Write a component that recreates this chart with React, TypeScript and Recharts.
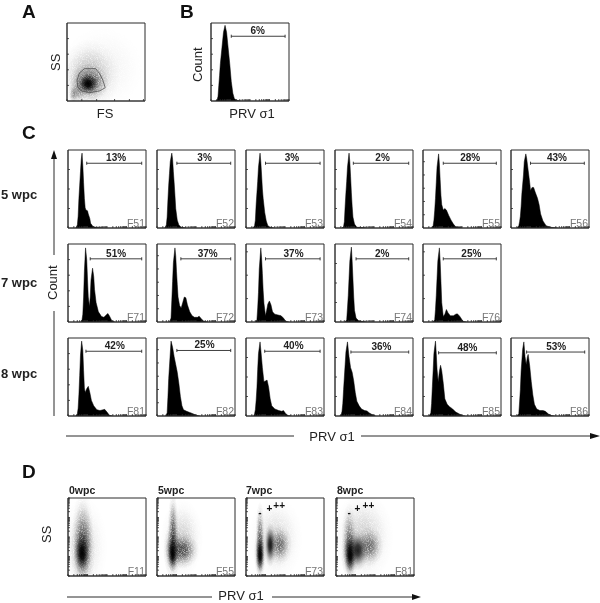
import React from 'react';
import {
  ComposedChart, ScatterChart, Area, Scatter, XAxis, YAxis,
  ReferenceArea, ReferenceLine, ReferenceDot,
} from 'recharts';

const FONT = '"Liberation Sans", Arial, sans-serif';
const INK = '#2a2a2a';

// ---------- histogram outlines, [PRV σ1 % of axis, count % of axis] ----------
const histB = [[6,0],[8,2],[9,6],[10,20],[11,33],[12,48],[14,68],[16,88],[18,97],[20,88],[22,68],[24,48],[26,25],[28,10],[30,3],[33,1],[38,0]];
const histF51 = [[10,0],[12,4],[13,15],[14,38],[15,55],[16,72],[17,88],[18,96],[19,80],[20,58],[21,38],[22,26],[23,23],[25,22],[26,18],[28,12],[29,6],[32,2],[37,0.5],[45,0]];
const histF52 = [[10,0],[12,4],[13,14],[14,36],[15,55],[16,70],[17,85],[19,96],[20,88],[21,72],[22,58],[23,42],[24,25],[26,10],[28,4],[31,1],[37,0]];
const histF53 = [[9,0],[11,3],[12,10],[13,30],[14,45],[15,60],[16,78],[18,96],[19,85],[20,68],[21,50],[22,38],[24,20],[26,9],[28,3],[31,1],[36,0]];
const histF54 = [[9,0],[11,2],[12,8],[13,28],[14,45],[15,60],[16,78],[18,96],[19,85],[20,66],[21,45],[22,28],[23,14],[25,5],[28,1],[35,0.5],[40,0]];
const histF55 = [[11,0],[13,3],[14,10],[15,22],[16,38],[17,58],[18,78],[20,95],[21,82],[22,62],[23,42],[24,30],[26,23],[28,25],[30,23],[33,16],[36,10],[39,5],[42,1.5],[50,0]];
const histF56 = [[8,0],[10,3],[11,8],[12,15],[13,28],[14,45],[16,68],[17,85],[19,95],[20,90],[22,74],[24,58],[25,48],[27,52],[29,52],[31,46],[34,38],[36,30],[38,18],[41,9],[45,3],[50,1],[60,0]];
const histF71 = [[16.5,0],[18,3],[19,10],[20,32],[21,65],[22.5,95],[24,80],[25,55],[26,32],[27.5,20],[28.5,32],[29.5,54],[31.5,69],[33,58],[34,42],[36,25],[39,13],[43,7],[46,6],[49,9],[51,11],[53,8],[56,2],[60,0]];
const histF72 = [[16,0],[18,5],[19,28],[20,52],[21,76],[23,95],[24,85],[25,65],[26,48],[27,32],[29,21],[31,18],[33,25],[35,32],[37,31],[39,22],[42,13],[45,8],[48,6],[52,6],[54,7.5],[57,4],[60,1],[65,0]];
const histF73 = [[12,0],[14,3],[15,18],[16,38],[17,68],[19,95],[20,82],[21,62],[22,40],[23,24],[25,8],[26.5,15],[28,23],[30,27],[32,22],[34,13],[37,10],[41,9],[45,8],[48,5],[51,1],[55,0]];
const histF74 = [[13,0],[15,3],[16,18],[17,34],[18,56],[19,78],[21,96],[22,78],[23,55],[24,32],[25,15],[27,5],[30,2],[34,1],[40,0]];
const histF76 = [[13,0],[15,3],[16,16],[17,34],[18,56],[19,78],[21,95],[22,78],[23,52],[24,25],[26,7],[28,10],[30,16],[32,12],[35,8],[39,8],[42,10],[44,10.5],[47,7.5],[50,3],[52,0.5],[56,0]];
const histF81 = [[10,0],[12,3],[13,10],[14,28],[15,52],[16,78],[17.5,96],[19,84],[20,58],[21,36],[22,30],[24,35],[26,38],[28,30],[30,20],[33,13],[37,8],[41,7],[45,8],[47,8.5],[50,5],[53,1],[57,0]];
const histF82 = [[11,0],[13,4],[14,24],[15,48],[16,64],[18,96],[20,88],[22,76],[24,66],[26,56],[28,42],[30,25],[32,13],[34,8],[38,6],[42,4.5],[46,3],[50,1],[55,0]];
const histF83 = [[10,0],[11,3],[12,8],[13,20],[14,36],[15,60],[16,80],[18,95],[19,85],[21,62],[23,44],[25,45],[27,46],[29,37],[31,22],[33,13],[37,9],[42,7],[46,6],[48,7],[51,3],[54,0.5],[58,0]];
const histF84 = [[6,0],[8,2],[9,6],[10,16],[11,34],[12,50],[13,66],[14,82],[16,95],[18,76],[20,62],[22,56],[24,45],[26,30],[28,19],[31,13],[34,9],[38,7],[41,6.5],[44,4],[48,1.5],[52,0]];
const histF85 = [[8,0],[10,4],[11,16],[12,38],[13,58],[14,80],[16,96],[17,80],[18,60],[19.5,44],[21,57],[22.5,65],[24,58],[26,42],[28,22],[31,15],[34,12],[38,9],[42,5],[46,3],[50,0.5],[54,0]];
const histF86 = [[8,0],[10,3],[11,18],[12,34],[13,58],[15,86],[16.5,95],[18,76],[19.5,66],[21,76],[22,79],[24,64],[26,44],[28,27],[30,15],[33,9],[37,7],[41,7],[44,6],[48,2.5],[52,0.5],[56,0]];

// ---------- gated ranges: [start %, end %, height %, label centre %, label] ----------
const gateB = [26, 95, 83, 60, '6%'];
const gateF51 = [24, 94.5, 83, 61.7, '13%'];
const gateF52 = [25.5, 94.5, 83, 61, '3%'];
const gateF53 = [25, 95, 83, 59, '3%'];
const gateF54 = [23.5, 94.5, 83, 61, '2%'];
const gateF55 = [26, 94, 83, 60.5, '28%'];
const gateF56 = [25, 94, 83, 59, '43%'];
const gateF71 = [28.5, 94.5, 81, 61.7, '51%'];
const gateF72 = [30.6, 94.5, 81, 65, '37%'];
const gateF73 = [25, 95, 81, 61, '37%'];
const gateF74 = [27, 94.5, 81, 60.6, '2%'];
const gateF76 = [26, 94, 81, 62, '25%'];
const gateF81 = [23, 94.5, 83, 60, '42%'];
const gateF82 = [25.5, 94.5, 84, 61, '25%'];
const gateF83 = [24, 95, 83, 61, '40%'];
const gateF84 = [20.4, 94.5, 82, 59.6, '36%'];
const gateF85 = [20, 94, 81, 57, '48%'];
const gateF86 = [20, 94.5, 82, 58, '53%'];

// ---------- density clouds: [x, y, spread x, spread y, darkness] ----------
const cloudA = [[45,42,30,30,0.05],[28,32,20,24,0.24],[14,12,6,8,0.3],[8,8,3,6,0.3],[28,24,13,12,0.65],[27,22,7,7,1]];
const cloudF11 = [[20,38,16,33,0.12],[19,58,7,26,0.28],[19,35,8,26,0.65],[18,29,5.5,14,1]];
const cloudF55 = [[32,48,14,26,0.18],[20.5,55,3.5,27,0.6],[32,33,11,12,0.68],[20,33,6,18,0.6],[20,29,3.5,12,1]];
const cloudF73 = [[38,48,18,28,0.14],[18,52,3,22,0.5],[43,40,8,13,0.52],[31,40,4,14,0.9],[18,30,4,17,0.6],[18,27,3,13,1]];
const cloudF81 = [[35,50,20,30,0.18],[17,50,5,22,0.4],[43,38,9,13,0.5],[28,33,7,13,0.85],[18,30,6,17,0.6],[18,27,4,14,1]];

// ---------- gate polygon of panel A ----------
const gatePolygonA = [[12.8,26.5],[16,36],[22.6,41.5],[36.8,41.5],[41.9,35],[46,26.5],[49,17],[42,13],[29,10.7],[18.4,13],[14,18],[12.8,26.5]];

// ---------- tick positions ----------
const decades = [0, 25, 50, 75];
const minorOffsets = [0, 7.5, 11.9, 15, 17.5, 19.5, 21.1, 22.6, 23.9];
const logTicks = [...decades.flatMap((d) => minorOffsets.map((m) => d + m)), 100];
const xTicksA = [0, 19, 38, 61, 80, 98];
const yTicksA = [20, 40, 60, 80];
const yTicksB = [20, 40, 60, 80];
const yTicksF51 = [25, 50, 75];
const yTicksF55 = [17, 34, 51, 68, 85];
const yTicksF71 = [20, 40, 60, 80];
const yTicksF76 = [30, 60, 90];

// ---------- layout ----------
const colX = [68, 157, 246, 335, 423, 511];
const rowY = [150, 244, 338];
const PANEL = 78;

const toPoints = (pairs) => pairs.map(([x, y]) => ({ x, y }));
const toCloud = (rows) => rows.map(([x, y, sx, sy, w]) => ({ x, y, sx, sy, w }));

const CloudBlob = (props) => {
  const { cx, cy, payload } = props;
  const px = PANEL / 100;
  const { sx, sy, w } = payload;
  return (
    <ellipse
      cx={cx}
      cy={cy}
      rx={sx * 2 * px}
      ry={sy * 2 * px}
      fill="url(#blob)"
      opacity={w}
      filter={w < 0.7 ? 'url(#grain)' : undefined}
    />
  );
};

const NoDot = () => <g />;

function axes(xTicks, yTicks) {
  return [
    <XAxis key="x" dataKey="x" type="number" domain={[0, 100]} allowDataOverflow ticks={xTicks}
      mirror tickSize={2} tickFormatter={() => ''} stroke={INK} strokeWidth={0.8} interval={0} />,
    <YAxis key="y" dataKey="y" type="number" domain={[0, 100]} allowDataOverflow ticks={yTicks}
      mirror tickSize={2} tickFormatter={() => ''} stroke={INK} strokeWidth={0.8} interval={0} />,
  ];
}

const frame = (name) => (
  <ReferenceArea
    x1={0} x2={100} y1={0} y2={100}
    fill="none" stroke={INK} strokeWidth={1}
    label={name ? { value: name, position: 'insideBottomRight', offset: 1, fill: '#777', fontSize: 10.5, fontFamily: FONT } : undefined}
  />
);

const Hist = ({ left, top, hist, gate, name, yTicks }) => {
  const [a, b, h, lx, text] = gate;
  return (
    <div style={{ position: 'absolute', left: left - 1, top: top - 1 }}>
      <ComposedChart width={PANEL + 2} height={PANEL + 2} data={toPoints(hist)}
        margin={{ top: 1, right: 1, bottom: 1, left: 1 }}>
        {axes(logTicks, yTicks)}
        <Area dataKey="y" type="linear" fill="#000" fillOpacity={1} stroke="#000" strokeWidth={0.5} isAnimationActive={false} dot={false} activeDot={false} />
        {frame(name)}
        <ReferenceLine segment={[{ x: a, y: h }, { x: b, y: h }]} stroke={INK} strokeWidth={0.9} />
        <ReferenceLine segment={[{ x: a, y: h - 2 }, { x: a, y: h + 2 }]} stroke={INK} strokeWidth={0.9} />
        <ReferenceLine segment={[{ x: b, y: h - 2 }, { x: b, y: h + 2 }]} stroke={INK} strokeWidth={0.9} />
        <ReferenceDot x={lx} y={h} r={0} fill="none" stroke="none"
          label={{ value: text, position: 'top', offset: 2, fontSize: 10, fontWeight: 700, fill: '#222', fontFamily: FONT }} />
      </ComposedChart>
    </div>
  );
};

const Cloud = ({ left, top, cloud, name, xTicks, yTicks, polygon, marks }) => (
  <div style={{ position: 'absolute', left: left - 1, top: top - 1 }}>
    <ScatterChart width={PANEL + 2} height={PANEL + 2} margin={{ top: 1, right: 1, bottom: 1, left: 1 }}>
      {axes(xTicks, yTicks)}
      <Scatter data={toCloud(cloud)} shape={CloudBlob} isAnimationActive={false} />
      {polygon ? (
        <Scatter data={toPoints(polygon)} line={{ stroke: '#444', strokeWidth: 0.7 }} shape={NoDot} isAnimationActive={false} />
      ) : null}
      {frame(name)}
      {(marks || []).map(([x, y, t]) => (
        <ReferenceDot key={t} x={x} y={y} r={0} fill="none" stroke="none"
          label={{ value: t, position: 'center', fontSize: 10, fontWeight: 700, fill: '#111', fontFamily: FONT }} />
      ))}
    </ScatterChart>
  </div>
);

const row1 = [
  [histF51, gateF51, 'F51', yTicksF51], [histF52, gateF52, 'F52', yTicksF51], [histF53, gateF53, 'F53', yTicksF51],
  [histF54, gateF54, 'F54', yTicksF51], [histF55, gateF55, 'F55', yTicksF55], [histF56, gateF56, 'F56', yTicksF51],
];
const row2 = [
  [histF71, gateF71, 'F71', yTicksF71], [histF72, gateF72, 'F72', yTicksF55], [histF73, gateF73, 'F73', yTicksF76],
  [histF74, gateF74, 'F74', yTicksF51], [histF76, gateF76, 'F76', yTicksF76],
];
const row3 = [
  [histF81, gateF81, 'F81', yTicksF71], [histF82, gateF82, 'F82', yTicksF55], [histF83, gateF83, 'F83', yTicksF51],
  [histF84, gateF84, 'F84', yTicksF51], [histF85, gateF85, 'F85', yTicksF51], [histF86, gateF86, 'F86', yTicksF51],
];
const marksF73 = [[18, 82, '-'], [30, 86, '+'], [42.5, 91, '++']];
const marksF81 = [[17, 82, '-'], [27.5, 86, '+'], [41.6, 91, '++']];

const T = ({ x, y, size = 13, bold, anchor = 'start', rotate, fill = '#222', children }) => (
  <text x={x} y={y} fontSize={size} fontWeight={bold ? 700 : 400} textAnchor={anchor} fill={fill}
    fontFamily={FONT} transform={rotate ? `rotate(-90 ${x} ${y})` : undefined}>
    {children}
  </text>
);

export default function App() {
  return (
    <div style={{ position: 'absolute', left: 0, top: 0, width: 600, height: 603, background: '#fff', overflow: 'hidden', filter: 'blur(0.35px)' }}>
      <svg width={600} height={603} style={{ position: 'absolute', left: 0, top: 0 }}>
        <defs>
          <radialGradient id="blob">
            <stop offset="0" stopColor="#000" stopOpacity={1} />
            <stop offset="0.25" stopColor="#000" stopOpacity={0.85} />
            <stop offset="0.5" stopColor="#000" stopOpacity={0.45} />
            <stop offset="0.75" stopColor="#000" stopOpacity={0.12} />
            <stop offset="1" stopColor="#000" stopOpacity={0} />
          </radialGradient>
          <filter id="grain" x="-10%" y="-10%" width="120%" height="120%">
            <feTurbulence type="fractalNoise" baseFrequency="1.1" numOctaves={2} seed={4} result="n" />
            <feColorMatrix in="n" type="matrix"
              values="0 0 0 0 0  0 0 0 0 0  0 0 0 0 0  1.6 0 0 0 0.1" result="a" />
            <feComposite in="SourceGraphic" in2="a" operator="in" />
          </filter>
        </defs>
        <T x={22} y={18} size={19} bold fill="#111">A</T>
        <T x={180} y={18} size={19} bold fill="#111">B</T>
        <T x={22} y={139} size={19} bold fill="#111">C</T>
        <T x={22} y={478} size={19} bold fill="#111">D</T>

        <T x={60} y={71} rotate>SS</T>
        <T x={105} y={118} anchor="middle">FS</T>
        <T x={202} y={82} rotate>Count</T>
        <T x={252} y={118} anchor="middle">PRV σ1</T>

        <T x={1} y={199} bold>5 wpc</T>
        <T x={1} y={287} bold>7 wpc</T>
        <T x={1} y={378} bold>8 wpc</T>

        <line x1={54} y1={155} x2={54} y2={255} stroke={INK} strokeWidth={1} />
        <line x1={54} y1={311} x2={54} y2={416} stroke={INK} strokeWidth={1} />
        <polygon points="54,150 51,159 57,159" fill="#111" />
        <T x={57} y={300} rotate>Count</T>

        <line x1={66} y1={436} x2={294} y2={436} stroke={INK} strokeWidth={1} />
        <T x={332} y={441} anchor="middle">PRV σ1</T>
        <line x1={361} y1={436} x2={592} y2={436} stroke={INK} strokeWidth={1} />
        <polygon points="600,436 590,433 590,439" fill="#111" />

        <T x={69} y={494} size={10.5} bold>0wpc</T>
        <T x={158} y={494} size={10.5} bold>5wpc</T>
        <T x={246} y={494} size={10.5} bold>7wpc</T>
        <T x={337} y={494} size={10.5} bold>8wpc</T>
        <T x={51} y={543} rotate>SS</T>

        <line x1={67} y1={597} x2={212} y2={597} stroke={INK} strokeWidth={1} />
        <T x={241} y={600} anchor="middle">PRV σ1</T>
        <line x1={272} y1={597} x2={414} y2={597} stroke={INK} strokeWidth={1} />
        <polygon points="421,597 412,594 412,600" fill="#111" />
      </svg>

      <Cloud left={67} top={23} cloud={cloudA} xTicks={xTicksA} yTicks={yTicksA} polygon={gatePolygonA} />
      <Hist left={211} top={23} hist={histB} gate={gateB} yTicks={yTicksB} />

      {row1.map(([h, g, n, y], i) => <Hist key={n} left={colX[i]} top={rowY[0]} hist={h} gate={g} name={n} yTicks={y} />)}
      {row2.map(([h, g, n, y], i) => <Hist key={n} left={colX[i]} top={rowY[1]} hist={h} gate={g} name={n} yTicks={y} />)}
      {row3.map(([h, g, n, y], i) => <Hist key={n} left={colX[i]} top={rowY[2]} hist={h} gate={g} name={n} yTicks={y} />)}

      <Cloud left={68} top={498} cloud={cloudF11} name="F11" xTicks={logTicks} yTicks={logTicks} />
      <Cloud left={157} top={498} cloud={cloudF55} name="F55" xTicks={logTicks} yTicks={logTicks} />
      <Cloud left={246} top={498} cloud={cloudF73} name="F73" xTicks={logTicks} yTicks={logTicks} marks={marksF73} />
      <Cloud left={336} top={498} cloud={cloudF81} name="F81" xTicks={logTicks} yTicks={logTicks} marks={marksF81} />
    </div>
  );
}
